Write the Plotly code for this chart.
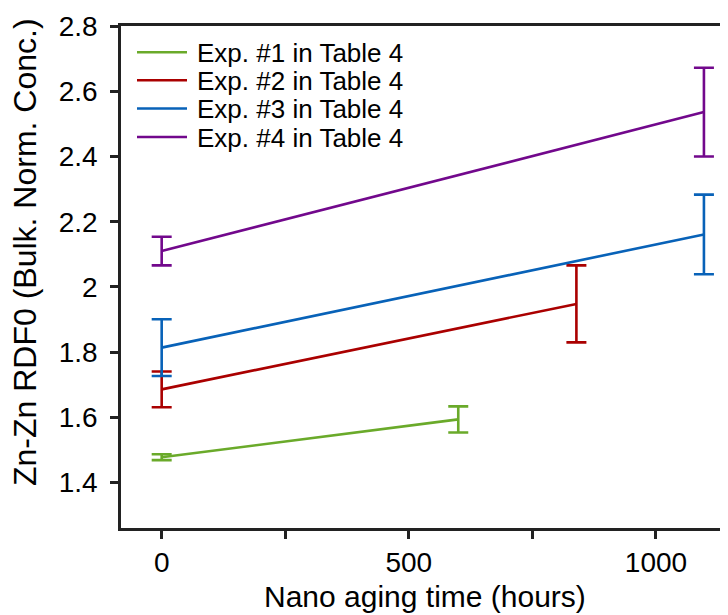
import plotly.graph_objects as go

# Data
series_names = ["Exp. #1 in Table 4", "Exp. #2 in Table 4", "Exp. #3 in Table 4", "Exp. #4 in Table 4"]
series_colors = ["#6AAA2A", "#AA0000", "#0862B8", "#72088C"]

exp1_time = [0, 600]
exp1_rdf = [1.478, 1.594]
exp1_err = [0.009, 0.040]

exp2_time = [0, 839]
exp2_rdf = [1.686, 1.948]
exp2_err = [0.055, 0.118]

exp3_time = [0, 1097]
exp3_rdf = [1.814, 2.161]
exp3_err = [0.087, 0.122]

exp4_time = [0, 1097]
exp4_rdf = [2.110, 2.536]
exp4_err = [0.044, 0.136]

x_tickvals = [0, 250, 500, 750, 1000]
x_ticktext = ["0", "", "500", "", "1000"]
y_tickvals = [1.4, 1.6, 1.8, 2.0, 2.2, 2.4, 2.6, 2.8]
y_ticktext = ["1.4", "1.6", "1.8", "2", "2.2", "2.4", "2.6", "2.8"]

x_title = "Nano aging time (hours)"
y_title = "Zn-Zn RDF0 (Bulk. Norm. Conc.)"

FONT = "Liberation Sans, Arial, Helvetica, sans-serif"
AX = "#222222"

# The page body has an 8px margin, so the figure is sized/offset to compensate
PAGE_OFF = 8
PLOT_L, PLOT_T, PLOT_R, PLOT_B = 121, 26, 728, 528   # plot area in window pixels
PW, PH = PLOT_R - PLOT_L, PLOT_B - PLOT_T


def px_x(px):
    return (px - PLOT_L) / PW


def px_y(py):
    return 1 - (py - PLOT_T) / PH


fig = go.Figure()
all_series = [
    (exp1_time, exp1_rdf, exp1_err),
    (exp2_time, exp2_rdf, exp2_err),
    (exp3_time, exp3_rdf, exp3_err),
    (exp4_time, exp4_rdf, exp4_err),
]
for name, color, (t, v, e) in zip(series_names, series_colors, all_series):
    fig.add_trace(go.Scatter(
        x=t, y=v, name=name, mode="lines",
        line=dict(color=color, width=2.6),
        error_y=dict(type="data", array=e, visible=True, color=color,
                     thickness=2.6, width=10),
        showlegend=False,
    ))

# Legend drawn as line samples + text (rows as in the reference)
legend_rows_py = [52.3, 80.3, 108.5, 137.0]
shapes = []
annotations = []
for name, color, py in zip(series_names, series_colors, legend_rows_py):
    shapes.append(dict(type="line", xref="paper", yref="paper",
                       x0=px_x(137), x1=px_x(187), y0=px_y(py), y1=px_y(py),
                       line=dict(color=color, width=2.6)))
    annotations.append(dict(text=name, xref="paper", yref="paper",
                            x=px_x(195), y=px_y(py + 1), xanchor="left", yanchor="middle",
                            showarrow=False,
                            font=dict(size=26, family=FONT, color="black")))

annotations.append(dict(
    text=y_title, textangle=-90,
    xref="paper", yref="paper", x=px_x(25), y=px_y(252),
    xanchor="center", yanchor="middle", showarrow=False,
    font=dict(size=32, family=FONT, color="black"),
))
annotations.append(dict(
    text=x_title,
    xref="paper", yref="paper", x=px_x(425), y=px_y(596),
    xanchor="center", yanchor="middle", showarrow=False,
    font=dict(size=30, family=FONT, color="black"),
))

fig.update_layout(
    width=728 - PAGE_OFF, height=615 - PAGE_OFF,
    margin=dict(l=PLOT_L - PAGE_OFF, r=0, t=PLOT_T - PAGE_OFF,
                b=615 - PLOT_B, pad=0),
    paper_bgcolor="white", plot_bgcolor="white",
    font=dict(family=FONT, color="black", size=26),
    showlegend=False,
    xaxis=dict(
        range=[-82.3, 1145.7],
        tickmode="array", tickvals=x_tickvals, ticktext=x_ticktext,
        ticks="outside", ticklen=8, tickwidth=2.6, tickcolor=AX,
        showline=True, linewidth=2.6, linecolor=AX, mirror=True,
        showgrid=False, zeroline=False,
        tickfont=dict(size=28, family=FONT, color="black"),
    ),
    yaxis=dict(
        range=[1.261, 2.8],
        tickmode="array", tickvals=y_tickvals, ticktext=y_ticktext,
        ticks="outside", ticklen=8, tickwidth=2.6, tickcolor=AX,
        ticklabelstandoff=7,
        showline=True, linewidth=2.6, linecolor=AX, mirror=False,
        showgrid=False, zeroline=False,
        tickfont=dict(size=28, family=FONT, color="black"),
    ),
    shapes=shapes,
    annotations=annotations,
)

fig.write_html("out.html")
